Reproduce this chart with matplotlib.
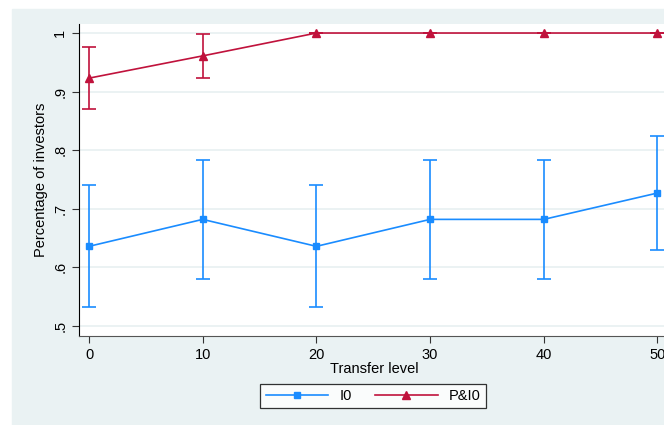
import matplotlib.pyplot as plt
from matplotlib.patches import Rectangle

plt.rcParams['font.family'] = ['Liberation Sans', 'DejaVu Sans']

# data
levels = [0, 10, 20, 30, 40, 50]
i0_mean = [0.636, 0.682, 0.636, 0.682, 0.682, 0.727]
i0_err = [0.104, 0.101, 0.104, 0.101, 0.101, 0.097]
pi0_mean = [0.923, 0.961, 1.0, 1.0, 1.0, 1.0]
pi0_err = [0.053, 0.038, 0.0, 0.0, 0.0, 0.0]
yticks = [0.5, 0.6, 0.7, 0.8, 0.9, 1.0]
ytick_labels = ['.5', '.6', '.7', '.8', '.9', '1']

blue = '#1a8cff'
red = '#c0123c'
bg = '#eaf2f3'

fig = plt.figure(figsize=(6.64, 4.25), dpi=100)
fig.patches.append(Rectangle((12 / 664, 0), 1, 1 - 9 / 425,
                             transform=fig.transFigure, color=bg, zorder=-10))

ax = fig.add_axes([79 / 664, 1 - 336 / 425, 591 / 664, 312 / 425])
ax.set_facecolor('white')

l1 = ax.errorbar(levels, i0_mean, yerr=i0_err, color=blue, marker='s', markersize=5,
                 lw=1.2, elinewidth=1.2, capsize=5, capthick=1.2, label='I0')
l2 = ax.errorbar(levels, pi0_mean, yerr=pi0_err, color=red, marker='^', markersize=6,
                 lw=1.2, elinewidth=1.2, capsize=5, capthick=1.2, label='P&I0')

ax.set_xlim(-0.88, 51.1)
ax.set_ylim(0.483, 1.0154)
ax.set_xticks(levels)
ax.set_yticks(yticks)
ax.set_yticklabels(ytick_labels, rotation=90, va='center')
ax.tick_params(axis='both', labelsize=10.5, color='#333333', length=5)
ax.grid(axis='y', color='#e8f0f1', lw=1.2)
ax.set_axisbelow(True)
for s in ['top', 'right']:
    ax.spines[s].set_visible(False)
ax.spines['left'].set_color('black')
ax.spines['bottom'].set_color('#555555')

ax.set_xlabel('Transfer level', fontsize=10.5, labelpad=0)
ax.set_ylabel('Percentage of investors', fontsize=10.5, labelpad=4)

handles = [l1.lines[0], l2.lines[0]]
leg = fig.legend(handles, ['I0', 'P&I0'], loc='center', ncol=2,
                 bbox_to_anchor=(373 / 664, 1 - 396 / 425), frameon=True,
                 fancybox=False, edgecolor='black', fontsize=10.5,
                 handlelength=4.3, handletextpad=0.75, columnspacing=1.6,
                 borderpad=0.35)
leg.get_frame().set_linewidth(0.9)

fig.savefig('out.png', dpi=100, facecolor='white')
